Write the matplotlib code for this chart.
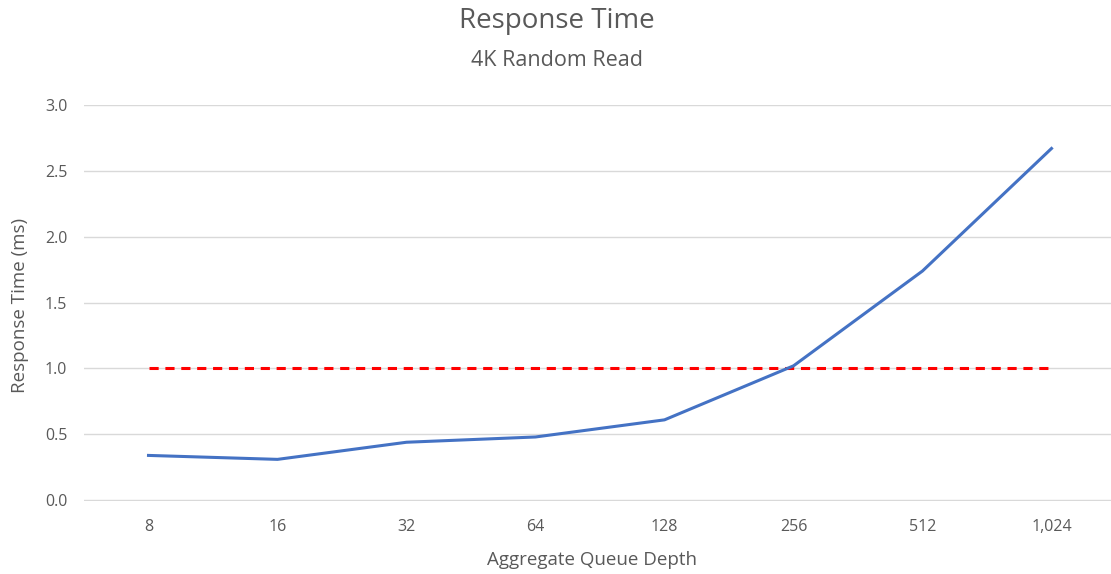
import matplotlib
matplotlib.use("Agg")
import matplotlib.pyplot as plt

categories = ["8", "16", "32", "64", "128", "256", "512", "1,024"]
response_ms = [0.34, 0.31, 0.44, 0.48, 0.61, 1.02, 1.74, 2.67]
threshold_ms = [1.0, 1.0, 1.0, 1.0, 1.0, 1.0, 1.0, 1.0]
yticks = [0.0, 0.5, 1.0, 1.5, 2.0, 2.5, 3.0]

plt.rcParams['font.family'] = ['Open Sans', 'DejaVu Sans']
gray = '#595959'

fig = plt.figure(figsize=(11.11, 5.74), dpi=100)
ax = fig.add_axes([84/1111, 1-501/574, (1116-84)/1111, (501-105)/574])

x = list(range(len(categories)))
ax.plot(x, threshold_ms, color='#FF0000', lw=2.2, dashes=(3, 2.2), zorder=3)
ax.plot(x, response_ms, color='#4472C4', lw=2.2, zorder=4)

ax.set_xlim(-0.5, len(categories) - 0.5)
ax.set_ylim(-0.006, 3.0)
ax.set_yticks(yticks)
ax.set_yticklabels([f"{t:.1f}" for t in yticks])
ax.set_xticks(x)
ax.set_xticklabels(categories)
ax.grid(axis='y', color='#D9D9D9', lw=1)
ax.set_axisbelow(True)
for s in ax.spines.values():
    s.set_visible(False)
ax.tick_params(axis='both', length=0, labelsize=11.5, colors=gray)
ax.tick_params(axis='x', pad=13)
ax.tick_params(axis='y', pad=12)

fig.text(557/1111, 1-21/574, "Response Time", ha='center', va='center', fontsize=20, color=gray)
fig.text(557/1111, 1-60/574, "4K Random Read", ha='center', va='center', fontsize=15.5, color=gray)
fig.text(592/1111, 1-560/574, "Aggregate Queue Depth", ha='center', va='center', fontsize=13.5, color=gray)
fig.text(20/1111, 1-305/574, "Response Time (ms)", ha='center', va='center', fontsize=13.5, color=gray, rotation=90)

fig.savefig("out.png", dpi=100, facecolor='white')
